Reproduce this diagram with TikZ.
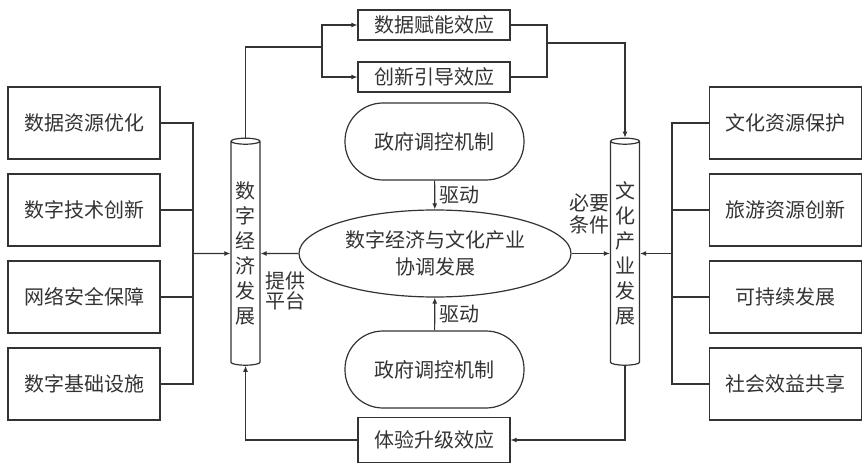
\documentclass[tikz,border=0pt]{standalone}
\usepackage{fontspec}
\setmainfont{Noto Sans CJK SC}
\usetikzlibrary{shapes.geometric,arrows.meta}

\begin{document}
\begin{tikzpicture}[x=1pt,y=-1pt,
        every node/.style={font=\fontsize{20}{25}\selectfont,text=black!80},
        sidebox/.style={draw=black!80,line width=1.2pt,minimum width=152,minimum height=72,inner sep=0},
        effbox/.style={draw=black!80,line width=1.2pt,minimum width=152,minimum height=30,inner sep=0},
        govbox/.style={draw=black!80,line width=1.2pt,rectangle,rounded corners=38,minimum width=179,minimum height=77,inner sep=0},
        pillar/.style={draw=black!80,line width=1.2pt,cylinder,shape border rotate=90,aspect=0.3,minimum width=29,minimum height=227,inner sep=0,align=center},
        arr/.style={-{Latex[length=6pt,width=5pt]}},
        wire/.style={line width=1.1pt,draw=black!80}]
        \useasboundingbox (0,0) rectangle (865,465);
        %% Left factors
        \node[sidebox] (l1) at (84,123) {数据资源优化};
        \node[sidebox] (l2) at (84,210) {数字技术创新};
        \node[sidebox] (l3) at (84,297) {网络安全保障};
        \node[sidebox] (l4) at (84,384) {数字基础设施};
        %% Right factors
        \node[sidebox] (r1) at (785.5,123) {文化资源保护};
        \node[sidebox] (r2) at (785.5,210) {旅游资源创新};
        \node[sidebox] (r3) at (785.5,297) {可持续发展};
        \node[sidebox] (r4) at (785.5,384) {社会效益共享};
        %% Effects
        \node[effbox] (e1) at (434,25) {数据赋能效应};
        \node[effbox] (e2) at (434,77) {创新引导效应};
        \node[effbox,minimum height=45] (e3) at (434,440) {体验升级效应};
        %% Government
        \node[govbox] (g1) at (434.5,141.5) {政府调控机制};
        \node[govbox] (g2) at (434.5,369.5) {政府调控机制};
        %% Core and pillars
        \node[draw=black!80,line width=1.2pt,ellipse,minimum width=272,minimum height=87,inner sep=0,align=center,
              font=\fontsize{20}{27}\selectfont] (core) at (435,253.5) {数字经济与文化产业\\协调发展};
        \node[pillar] (cl) at (245.5,253.5) {数\\字\\经\\济\\发\\展};
        \node[pillar] (cr) at (625,253.5) {文\\化\\产\\业\\发\\展};
        %% Buses
        \coordinate (lbus) at (193,253.5);
        \coordinate (rbus) at (672,253.5);
        \foreach \i in {1,...,4} {
            \draw[wire] (l\i.east) -| (lbus);
            \draw[wire] (r\i.west) -| (rbus);
        }
        \draw[wire,arr] (lbus) -- (cl);
        \draw[wire,arr] (rbus) -- (cr);
        %% Top loop
        \coordinate (tsplit) at (322,47);
        \coordinate (tjoin) at (547,43);
        \draw[wire] (cl.north) |- (tsplit);
        \draw[wire,arr] (tsplit) |- (e1.west);
        \draw[wire,arr] (tsplit) |- (e2.west);
        \draw[wire] (e1.east) -| (tjoin);
        \draw[wire] (e2.east) -| (tjoin);
        \draw[wire,arr] (tjoin) -| (cr.north);
        %% Bottom loop
        \draw[wire,arr] (cr.south) |- (e3.east);
        \draw[wire,arr] (e3.west) -| (cl.south);
        %% Centre links
        \draw[wire,arr] (g1) -- (core) node[midway,right,xshift=1pt] (d1) {驱动};
        \draw[wire,arr] (g2) -- (core) node[midway,right,xshift=1pt] (d2) {驱动};
        \draw[wire,arr] (core) -- (cl);
        \draw[wire,arr] (core) -- (cr);
        \node[align=center,font=\fontsize{20}{20}\selectfont] (pf) at (285,291) {提供\\平台};
        \node[align=center,font=\fontsize{20}{22}\selectfont] (bt) at (589,214) {必要\\条件};
    \end{tikzpicture}
\end{document}
